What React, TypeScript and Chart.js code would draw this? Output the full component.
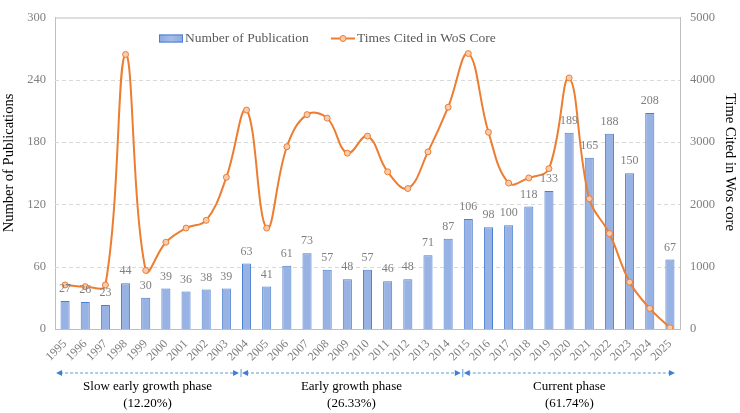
import React, { useEffect, useRef } from "react";
import { Chart, registerables } from "chart.js";

Chart.register(...registerables);

const years = [
  "1995", "1996", "1997", "1998", "1999", "2000", "2001", "2002", "2003", "2004",
  "2005", "2006", "2007", "2008", "2009", "2010", "2011", "2012", "2013", "2014",
  "2015", "2016", "2017", "2018", "2019", "2020", "2021", "2022", "2023", "2024", "2025",
];
const publications = [
  27, 26, 23, 44, 30, 39, 36, 38, 39, 63,
  41, 61, 73, 57, 48, 57, 46, 48, 71, 87,
  106, 98, 100, 118, 133, 189, 165, 188, 150, 208, 67,
];
const timesCited = [
  707, 680, 707, 4407, 940, 1393, 1620, 1744, 2435, 3514,
  1620, 2926, 3441, 3385, 2822, 3096, 2523, 2255, 2843, 3560,
  4422, 3158, 2342, 2425, 2574, 4030, 2090, 1532, 753, 330, 20,
];
const phases = [
  { name: "Slow early growth phase", share: "(12.20%)", from: 0, to: 9 },
  { name: "Early growth phase", share: "(26.33%)", from: 9, to: 20 },
  { name: "Current phase", share: "(61.74%)", from: 20, to: 30 },
];
const leftTicksMax = 300;
const leftStep = 60;
const rightTicksMax = 5000;
const rightStep = 1000;

const SERIF = "'Liberation Serif', 'Times New Roman', serif";
const BAR_BORDER = "#4A7FD1";
const ORANGE = "#ED7D31";
const TICK_GRAY = "#7F7F7F";

function barGradient(ctx: CanvasRenderingContext2D, x0: number, x1: number) {
  const g = ctx.createLinearGradient(x0, 0, x1, 0);
  g.addColorStop(0, "#8CA9DE");
  g.addColorStop(0.5, "#A7BDE8");
  g.addColorStop(1, "#8CA9DE");
  return g;
}

const customDraw = {
  id: "customDraw",
  beforeDatasetsDraw(chart: any) {
    const { ctx, chartArea } = chart;
    const ys = chart.scales.y;
    ctx.save();
    ctx.strokeStyle = "#D9D9D9";
    ctx.lineWidth = 1;
    ctx.setLineDash([4, 3]);
    for (let v = leftStep; v < leftTicksMax; v += leftStep) {
      const py = Math.round(ys.getPixelForValue(v)) + 0.5;
      ctx.beginPath();
      ctx.moveTo(chartArea.left, py);
      ctx.lineTo(chartArea.right, py);
      ctx.stroke();
    }
    ctx.setLineDash([]);
    ctx.strokeStyle = "#BFBFBF";
    ctx.beginPath();
    ctx.moveTo(chartArea.left, chartArea.top + 0.5);
    ctx.lineTo(chartArea.right, chartArea.top + 0.5);
    ctx.stroke();
    ctx.restore();
  },
  afterDatasetsDraw(chart: any) {
    const { ctx } = chart;
    const barMeta = chart.getDatasetMeta(0);
    ctx.save();
    ctx.font = `12px ${SERIF}`;
    ctx.fillStyle = TICK_GRAY;
    ctx.textAlign = "center";
    ctx.textBaseline = "middle";
    barMeta.data.forEach((bar: any, i: number) => {
      ctx.fillText(String(publications[i]), bar.x, bar.y - 12);
    });
    ctx.restore();
  },
  afterDraw(chart: any) {
    const { ctx, chartArea } = chart;
    const xs = chart.scales.x;
    ctx.save();

    // legend
    const ly = chartArea.top + 21;
    ctx.fillStyle = barGradient(ctx, 159, 183);
    ctx.fillRect(159, ly - 4, 24, 8);
    ctx.strokeStyle = BAR_BORDER;
    ctx.lineWidth = 1;
    ctx.strokeRect(159.5, ly - 3.5, 23, 7);
    ctx.font = `13.5px ${SERIF}`;
    ctx.fillStyle = "#595959";
    ctx.textAlign = "left";
    ctx.textBaseline = "middle";
    ctx.fillText("Number of Publication", 185, ly);
    ctx.strokeStyle = ORANGE;
    ctx.lineWidth = 2;
    ctx.beginPath();
    ctx.moveTo(331, ly);
    ctx.lineTo(355, ly);
    ctx.stroke();
    ctx.beginPath();
    ctx.arc(343, ly, 3, 0, Math.PI * 2);
    ctx.fillStyle = "#F8CBAD";
    ctx.fill();
    ctx.lineWidth = 1;
    ctx.stroke();
    ctx.fillStyle = "#595959";
    ctx.fillText("Times Cited in WoS Core", 357, ly);

    // axis titles
    ctx.fillStyle = "#000000";
    ctx.font = `14.5px ${SERIF}`;
    ctx.textAlign = "center";
    ctx.textBaseline = "middle";
    ctx.save();
    ctx.translate(9, 163);
    ctx.rotate(-Math.PI / 2);
    ctx.fillText("Number of Publications", 0, 0);
    ctx.restore();
    ctx.save();
    ctx.translate(730, 162);
    ctx.rotate(Math.PI / 2);
    ctx.fillText("Time Cited in Wos core", 0, 0);
    ctx.restore();

    // phase arrows
    const ay = chartArea.bottom + 44;
    const bounds = [
      xs.getPixelForValue(0) - 9,
      xs.getPixelForValue(9) - 6,
      xs.getPixelForValue(20) - 6,
      xs.getPixelForValue(30) + 5,
    ];
    const head = (x: number, dir: number) => {
      ctx.beginPath();
      ctx.moveTo(x, ay);
      ctx.lineTo(x - dir * 6, ay - 3);
      ctx.lineTo(x - dir * 6, ay + 3);
      ctx.closePath();
      ctx.fillStyle = "#3E7FD6";
      ctx.fill();
    };
    phases.forEach((p, i) => {
      const x0 = bounds[i] + (i === 0 ? 0 : 1.5);
      const x1 = bounds[i + 1] - (i === phases.length - 1 ? 0 : 1.5);
      ctx.strokeStyle = "#5B9BD5";
      ctx.lineWidth = 1.2;
      ctx.setLineDash([3, 2]);
      ctx.beginPath();
      ctx.moveTo(x0 + 4, ay);
      ctx.lineTo(x1 - 4, ay);
      ctx.stroke();
      ctx.setLineDash([]);
      head(x0, -1);
      head(x1, 1);
      const cx = (x0 + x1) / 2;
      ctx.fillStyle = "#000000";
      ctx.font = `13px ${SERIF}`;
      ctx.textAlign = "center";
      ctx.textBaseline = "middle";
      ctx.fillText(p.name, cx, ay + 14);
      ctx.fillText(p.share, cx, ay + 31);
    });
    [bounds[1], bounds[2]].forEach((bx) => {
      ctx.strokeStyle = "#5B9BD5";
      ctx.lineWidth = 1;
      ctx.beginPath();
      ctx.moveTo(bx + 0.5, ay - 4);
      ctx.lineTo(bx + 0.5, ay + 4);
      ctx.stroke();
    });
    ctx.restore();
  },
};

export default function App() {
  const canvasRef = useRef<HTMLCanvasElement | null>(null);

  useEffect(() => {
    document.body.style.margin = "0";
    const canvas = canvasRef.current;
    if (!canvas) return;
    const chart = new Chart(canvas, {
      type: "bar",
      data: {
        labels: years,
        datasets: [
          {
            type: "bar",
            label: "Number of Publication",
            data: publications,
            yAxisID: "y",
            backgroundColor: (c: any) => {
              const el = c.element;
              if (!el || el.x === undefined) return "#98B3E3";
              const w = el.width || 9;
              return barGradient(c.chart.ctx, el.x - w / 2, el.x + w / 2);
            },
            borderColor: BAR_BORDER,
            borderWidth: 1,
            categoryPercentage: 1,
            barPercentage: 0.45,
            order: 2,
          } as any,
          {
            type: "line",
            label: "Times Cited in WoS Core",
            data: timesCited,
            yAxisID: "y1",
            borderColor: ORANGE,
            borderWidth: 2,
            tension: 0.4,
            pointRadius: 3,
            pointBorderWidth: 1,
            pointBackgroundColor: "#F8CBAD",
            pointBorderColor: ORANGE,
            order: 1,
          } as any,
        ],
      },
      options: {
        animation: false,
        responsive: true,
        maintainAspectRatio: false,
        layout: { padding: { top: 6, left: 0, right: 0, bottom: 0 } },
        plugins: {
          legend: { display: false },
          tooltip: { enabled: false },
        },
        scales: {
          x: {
            grid: { display: false },
            border: { color: "#BFBFBF" },
            ticks: {
              minRotation: 45,
              maxRotation: 45,
              autoSkip: false,
              padding: 0,
              color: TICK_GRAY,
              font: { family: SERIF, size: 12 },
            },
            afterFit: (s: any) => {
              s.height = 84;
            },
          },
          y: {
            position: "left",
            min: 0,
            max: leftTicksMax,
            ticks: {
              stepSize: leftStep,
              padding: 9,
              color: TICK_GRAY,
              font: { family: SERIF, size: 12.5 },
              callback: (v: any) => String(v),
            },
            grid: { display: false, drawTicks: false },
            border: { color: "#BFBFBF" },
            afterFit: (s: any) => {
              s.width = 55;
            },
          },
          y1: {
            position: "right",
            min: 0,
            max: rightTicksMax,
            ticks: {
              stepSize: rightStep,
              padding: 10,
              color: TICK_GRAY,
              font: { family: SERIF, size: 12.5 },
              callback: (v: any) => String(v),
            },
            grid: { display: false, drawTicks: false },
            border: { color: "#BFBFBF" },
            afterFit: (s: any) => {
              s.width = 60;
            },
          },
        },
      },
      plugins: [customDraw],
    });
    return () => chart.destroy();
  }, []);

  return (
    <div style={{ width: 740, height: 413, position: "relative" }}>
      <canvas ref={canvasRef} />
    </div>
  );
}
